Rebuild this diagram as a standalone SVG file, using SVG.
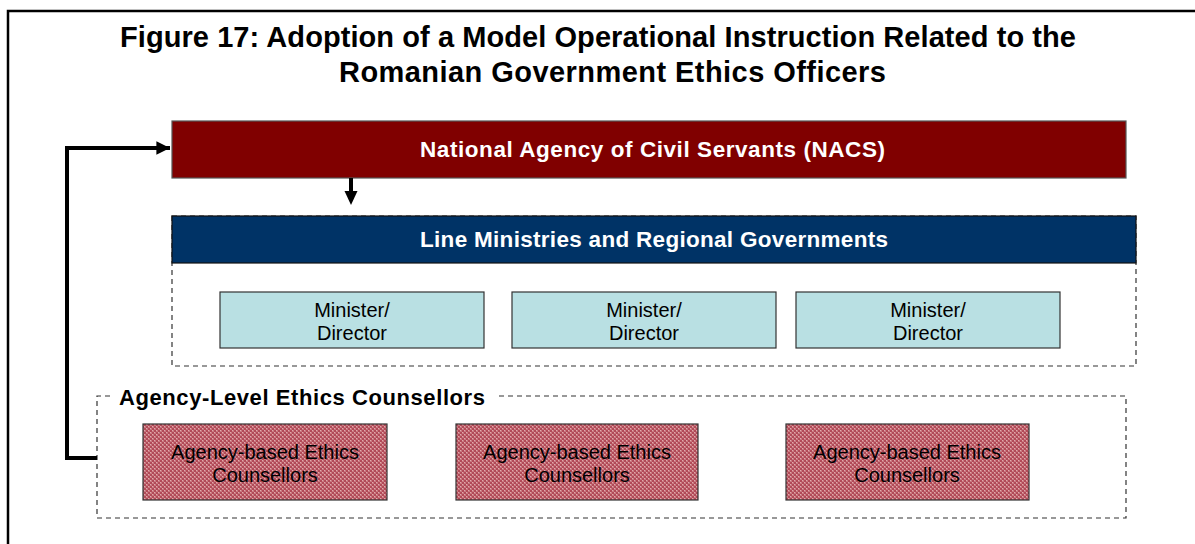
<svg xmlns="http://www.w3.org/2000/svg" width="1195" height="544" viewBox="0 0 1195 544">
<style>
text{font-family:"Liberation Sans",Arial,sans-serif;}
.title{font-size:29px;font-weight:bold;fill:#000;}
.hdr{font-size:22.5px;font-weight:bold;fill:#fff;}
.lbl{font-size:20px;fill:#000;text-anchor:middle;}
.grp{font-size:22px;font-weight:bold;fill:#000;}
.dash{fill:none;stroke:#333;stroke-width:1.2;stroke-dasharray:5,4;}
.min{fill:#b9e0e3;stroke:#333;stroke-width:1.2;}
.agy{fill:url(#hatch);stroke:#333;stroke-width:1.2;}
.conn{fill:none;stroke:#000;stroke-width:4;}
</style>
<defs>
<pattern id="hatch" width="4" height="4" patternUnits="userSpaceOnUse">
<rect width="4" height="4" fill="#c87a80"/>
<rect x="0" y="0" width="2" height="2" fill="#b24a58"/>
<rect x="2" y="2" width="2" height="2" fill="#b24a58"/>
<rect x="2" y="0" width="1" height="1" fill="#e4a8ac"/>
<rect x="0" y="2" width="1" height="1" fill="#e4a8ac"/>
</pattern>
<marker id="ah" viewBox="0 0 10 10" refX="10" refY="5" markerWidth="3.4" markerHeight="3.4" orient="auto" markerUnits="strokeWidth">
<path d="M0,0 L10,5 L0,10 z" fill="#000"/>
</marker>
</defs>
<rect x="0" y="0" width="1195" height="544" fill="#fff"/>
<path d="M8,545 V11 H1196" fill="none" stroke="#000" stroke-width="2.5"/>
<text class="title" x="120" y="47" textLength="956">Figure 17: Adoption of a Model Operational Instruction Related to the</text>
<text class="title" x="339" y="82" textLength="547">Romanian Government Ethics Officers</text>

<g id="nacs">
<rect x="172" y="121" width="954" height="57" fill="#800000" stroke="#555" stroke-width="1.2"/>
<text class="hdr" x="420" y="157" textLength="465">National Agency of Civil Servants (NACS)</text>
</g>

<g id="line-ministries">
<rect class="dash" x="172" y="216" width="964" height="150"/>
<rect x="172" y="216" width="964" height="47" fill="#003366" stroke="#111" stroke-width="1.2"/>
<text class="hdr" x="420" y="247" textLength="468">Line Ministries and Regional Governments</text>
</g>
<g id="minister-1">
<rect class="min" x="220" y="292" width="264" height="56"/>
<text class="lbl" x="352" y="317">Minister/</text>
<text class="lbl" x="352" y="340">Director</text>
</g>
<g id="minister-2">
<rect class="min" x="512" y="292" width="264" height="56"/>
<text class="lbl" x="644" y="317">Minister/</text>
<text class="lbl" x="644" y="340">Director</text>
</g>
<g id="minister-3">
<rect class="min" x="796" y="292" width="264" height="56"/>
<text class="lbl" x="928" y="317">Minister/</text>
<text class="lbl" x="928" y="340">Director</text>
</g>

<g id="agency-level">
<path class="dash" d="M110,396 H97 V518 H1126 V396 H497"/>
<text class="grp" x="119" y="405" textLength="366">Agency-Level Ethics Counsellors</text>
</g>
<g id="agency-1">
<rect class="agy" x="143" y="424" width="244" height="76"/>
<text class="lbl" x="265" y="459">Agency-based Ethics</text>
<text class="lbl" x="265" y="482">Counsellors</text>
</g>
<g id="agency-2">
<rect class="agy" x="456" y="424" width="242" height="76"/>
<text class="lbl" x="577" y="459">Agency-based Ethics</text>
<text class="lbl" x="577" y="482">Counsellors</text>
</g>
<g id="agency-3">
<rect class="agy" x="786" y="424" width="243" height="76"/>
<text class="lbl" x="907" y="459">Agency-based Ethics</text>
<text class="lbl" x="907" y="482">Counsellors</text>
</g>

<g id="connectors">
<path class="conn" d="M97,458 H67 V148 H170" marker-end="url(#ah)"/>
<path d="M351,178 V193" stroke="#000" stroke-width="4" fill="none"/>
<path d="M344.5,191 L357.5,191 L351,205 z" fill="#000"/>
</g>
</svg>
